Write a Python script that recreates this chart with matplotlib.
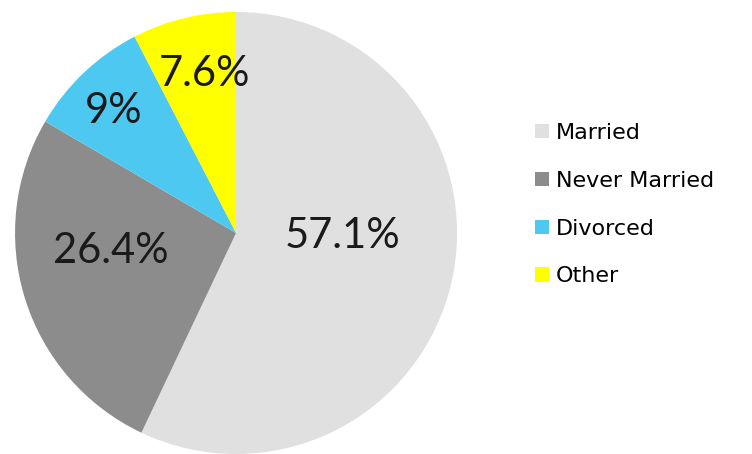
import numpy as np
import matplotlib
matplotlib.use("Agg")
import matplotlib.pyplot as plt

# marital status shares (%)
labels = ["Married", "Never Married", "Divorced", "Other"]
shares = [57.1, 26.4, 9.0, 7.6]
pct_text = ["57.1%", "26.4%", "9%", "7.6%"]
colors = ["#E0E0E0", "#8C8C8C", "#4DC8F0", "#FFFF00"]

plt.rcParams["font.family"] = ["Lato", "DejaVu Sans"]

fig = plt.figure(figsize=(7.52, 4.54), dpi=100)
ax = fig.add_axes([0.02, 0.0, 0.5878, 0.9736])

wedges, _ = ax.pie(shares, colors=colors, startangle=90, counterclock=False,
                   wedgeprops=dict(linewidth=0))

# label placement: radius (fraction) and angle nudge (deg) from slice middle
label_r = [0.484, 0.572, 0.784, 0.733]
label_nudge = [11.1, -8.8, 1.5, -2.3]
for w, txt, r, dn in zip(wedges, pct_text, label_r, label_nudge):
    mid = np.deg2rad((w.theta1 + w.theta2) / 2 + dn)
    ax.text(r * np.cos(mid), r * np.sin(mid), txt, ha="center", va="center",
            fontsize=30, color="#1a1a1a")

ax.set_xlim(-1, 1)
ax.set_ylim(-1, 1)
ax.set_aspect("equal")

fig.legend(wedges, labels, loc="center left", bbox_to_anchor=(0.697, 0.549),
           frameon=False, prop=dict(family="DejaVu Sans", size=16),
           borderpad=0, handlelength=0.62, handleheight=0.62,
           handletextpad=0.32, labelspacing=1.25)

fig.savefig("out.png", dpi=100)
